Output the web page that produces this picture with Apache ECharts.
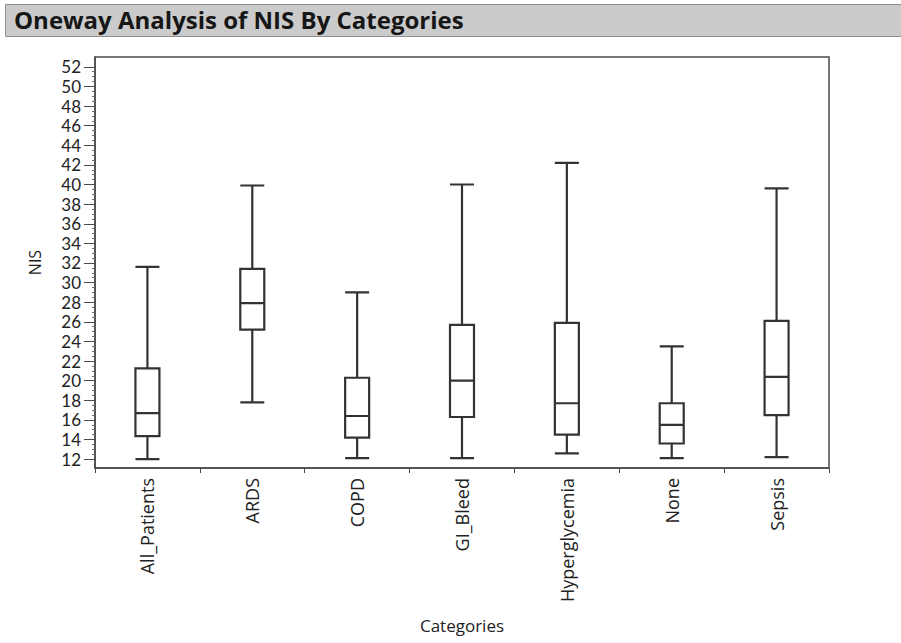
<!DOCTYPE html>
<html>
<head>
<meta charset="utf-8">
<script src="https://cdn.jsdelivr.net/npm/echarts@6/dist/echarts.min.js"></script>
<style>
html,body{margin:0;padding:0;background:#fff;}
#chart{width:901px;height:643px;}
</style>
</head>
<body>
<div id="chart"></div>
<script>
var categories = ['All_Patients','ARDS','COPD','GI_Bleed','Hyperglycemia','None','Sepsis'];
var whiskerLow  = [12.0, 17.8, 12.1, 12.1, 12.6, 12.1, 12.2];
var quartile1   = [14.35, 25.2, 14.2, 16.3, 14.5, 13.6, 16.5];
var medians     = [16.7, 27.9, 16.4, 20.0, 17.7, 15.5, 20.4];
var quartile3   = [21.25, 31.4, 20.3, 25.7, 25.9, 17.7, 26.1];
var whiskerHigh = [31.6, 39.9, 29.0, 40.0, 42.2, 23.5, 39.6];
var yTickLabels = [12,14,16,18,20,22,24,26,28,30,32,34,36,38,40,42,44,46,48,50,52];

var boxData = categories.map(function(c, i){
  return [whiskerLow[i], quartile1[i], medians[i], quartile3[i], whiskerHigh[i]];
});
var minorTicks = [];
yTickLabels.forEach(function(v, i){
  if (i < yTickLabels.length - 1) { minorTicks.push(v + 0.5, v + 1, v + 1.5); }
});

var FONT = 'Open Sans';
var chart = echarts.init(document.getElementById('chart'), null, {renderer:'svg'});
chart.setOption({
  animation: false,
  backgroundColor: '#ffffff',
  title: {
    text: 'Oneway Analysis of NIS By Categories',
    left: 9, top: 2,
    textStyle: {fontFamily: FONT, fontWeight: 'bold', fontSize: 24, color: '#161616'}
  },
  graphic: [{
    type: 'rect', z: -1, silent: true,
    shape: {x: 5.5, y: 4.5, width: 900, height: 32},
    style: {fill: '#cbcbcb', stroke: '#8f8f8f', lineWidth: 1}
  }],
  grid: {left: 95, right: 72, top: 57, bottom: 175, show: true, borderColor: '#4a4a4a', borderWidth: 1.5, backgroundColor: '#fff'},
  xAxis: {
    type: 'category',
    data: categories,
    boundaryGap: true,
    name: 'Categories',
    nameLocation: 'middle',
    nameGap: 149,
    nameTextStyle: {fontFamily: FONT, fontSize: 17, color: '#222'},
    axisLine: {lineStyle: {color: '#4a4a4a', width: 1.5}},
    axisTick: {show: true, length: 5, lineStyle: {color: '#4a4a4a', width: 1}},
    axisLabel: {rotate: 90, margin: 10, fontFamily: FONT, fontSize: 18, color: '#222'},
    splitLine: {show: false}
  },
  yAxis: [{
    type: 'value',
    min: 11.1, max: 53,
    name: 'NIS',
    nameLocation: 'middle',
    nameRotate: 90,
    nameGap: 52,
    nameTextStyle: {fontFamily: FONT, fontSize: 16, color: '#222'},
    axisLine: {show: true, lineStyle: {color: '#4a4a4a', width: 1.5}},
    axisTick: {show: true, length: 11, customValues: yTickLabels, lineStyle: {color: '#4a4a4a', width: 1}},
    axisLabel: {customValues: yTickLabels, margin: 14, fontFamily: 'Lato', fontSize: 17, lineHeight: 16, color: '#222'},
    splitLine: {show: false}
  }, {
    type: 'value',
    position: 'left',
    min: 11.1, max: 53,
    axisLine: {show: false},
    axisTick: {show: true, length: 3, customValues: minorTicks, lineStyle: {color: '#6a6a6a', width: 1}},
    axisLabel: {show: false},
    splitLine: {show: false}
  }],
  series: [{
    type: 'boxplot',
    data: boxData,
    boxWidth: [24, 24],
    itemStyle: {color: '#ffffff', borderColor: '#333333', borderWidth: 2.2},
    emphasis: {disabled: true}
  }]
});
</script>
</body>
</html>
